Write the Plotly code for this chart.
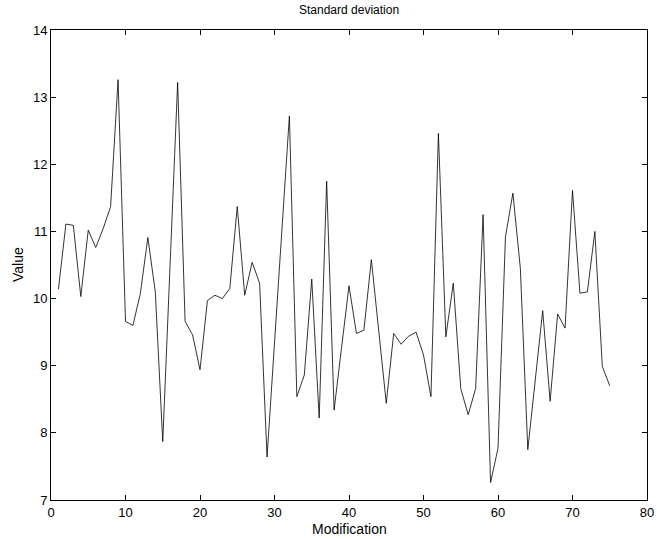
import plotly.graph_objects as go

modification = list(range(1, 76))
values = [
    10.14, 11.11, 11.09, 10.03, 11.02, 10.76, 11.04, 11.37, 13.26, 9.66,
    9.60, 10.08, 10.91, 10.10, 7.87, 10.50, 13.22, 9.66, 9.46, 8.94,
    9.97, 10.05, 10.00, 10.15, 11.37, 10.05, 10.54, 10.23, 7.64, 9.34,
    11.03, 12.72, 8.54, 8.86, 10.29, 8.22, 11.75, 8.34, 9.27, 10.19,
    9.48, 9.53, 10.58, 9.50, 8.44, 9.48, 9.32, 9.44, 9.50, 9.16,
    8.54, 12.46, 9.43, 10.23, 8.66, 8.27, 8.66, 11.25, 7.26, 7.77,
    10.92, 11.57, 10.45, 7.75, 8.77, 9.82, 8.47, 9.77, 9.56, 11.61,
    10.08, 10.10, 11.00, 8.99, 8.70,
]
x_ticks = [0, 10, 20, 30, 40, 50, 60, 70, 80]
y_ticks = [7, 8, 9, 10, 11, 12, 13, 14]

FONT = "Liberation Sans, Arial, sans-serif"

fig = go.Figure()
fig.add_trace(go.Scatter(
    x=modification, y=values, mode="lines",
    line=dict(color="black", width=0.8),
    showlegend=False, hoverinfo="skip",
))

axis_common = dict(
    showgrid=False, zeroline=False, showline=True, linecolor="black",
    linewidth=1, mirror="allticks", ticks="inside", ticklen=5,
    tickcolor="black", tickwidth=1, automargin=False,
    tickfont=dict(family=FONT, size=13, color="black"),
)

fig.update_layout(
    width=657, height=539,
    margin=dict(l=51, r=10, t=30, b=39),
    paper_bgcolor="white", plot_bgcolor="white",
    xaxis=dict(range=[0, 80], tickvals=x_ticks, ticktext=[str(v) for v in x_ticks],
               ticklabelstandoff=0, **axis_common),
    yaxis=dict(range=[7, 14], tickvals=y_ticks, ticktext=[str(v) for v in y_ticks],
               ticklabelstandoff=0, **axis_common),
    annotations=[
        dict(text="Standard deviation", xref="paper", yref="paper",
             x=0.5, y=1, yshift=11, xanchor="center", yanchor="bottom",
             showarrow=False, font=dict(family=FONT, size=12, color="black")),
        dict(text="Modification", xref="paper", yref="paper",
             x=0.5, y=0, yshift=-19, xanchor="center", yanchor="top",
             showarrow=False, font=dict(family=FONT, size=14, color="black")),
        dict(text="Value", xref="paper", yref="paper",
             x=0, y=0.5, xshift=-23, xanchor="right", yanchor="middle",
             textangle=-90, showarrow=False,
             font=dict(family=FONT, size=14, color="black")),
    ],
)

# remove the browser's default 8px body margin so the figure fills the window
fig.write_html("out.html", config={"displayModeBar": False},
               post_script="document.body.style.margin='0';")
